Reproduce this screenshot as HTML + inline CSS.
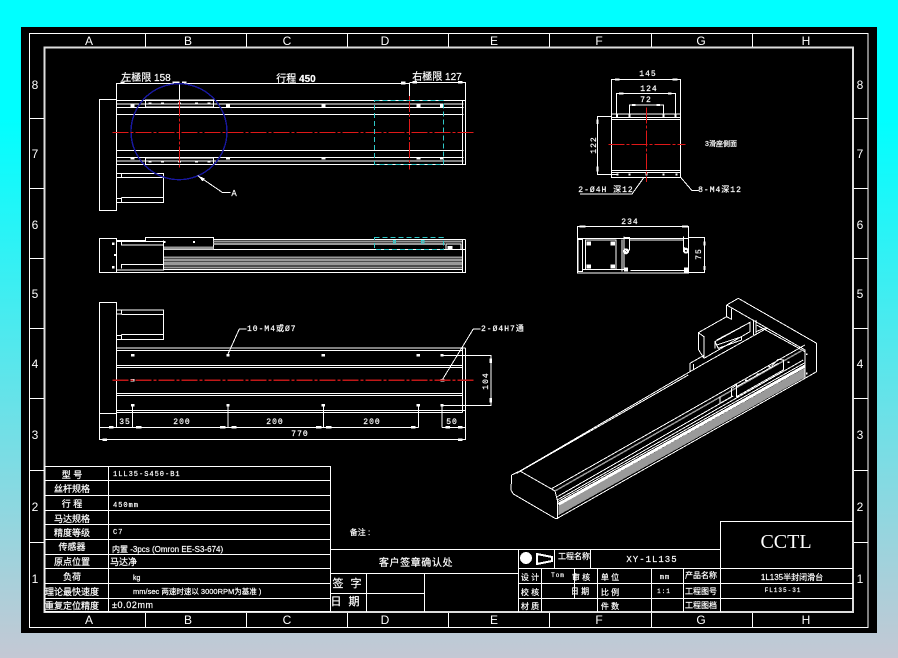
<!DOCTYPE html>
<html><head><meta charset="utf-8"><style>
html,body{margin:0;padding:0;width:898px;height:658px;overflow:hidden;background:linear-gradient(#00ffff 0%,#00ffff 18%,#c4c8d4 100%)}
svg{position:absolute;left:0;top:0;display:block}
text{font-family:"Liberation Sans","Noto Sans CJK SC",sans-serif;fill:#fff;stroke:#fff;stroke-width:.2;font-size:9px;text-anchor:middle}
.s{font-family:"Liberation Mono","Noto Sans CJK SC",monospace;font-size:8px;letter-spacing:1px}
.z{font-family:"Liberation Sans",sans-serif;font-size:12px;stroke-width:0}
.l{text-anchor:start}
line,rect,polyline,polygon,circle{fill:none;stroke:#fff;stroke-width:1;vector-effect:non-scaling-stroke;shape-rendering:crispEdges}
.r{stroke:#e01818;stroke-dasharray:16 2 3 2}
.c{stroke:#30c8c8;stroke-dasharray:5 3}
.g{stroke:#999}
.f{fill:#fff;stroke:none}
</style></head><body>
<svg width="898" height="658" viewBox="0 0 898 658" xmlns="http://www.w3.org/2000/svg">
<rect x="21" y="27" width="856" height="606" style="fill:#000;stroke:none"/>
<rect x="29.5" y="33.5" width="838.5" height="594"/>
<rect x="44.5" y="47.5" width="808.5" height="564.5" style="stroke:#ddd;stroke-width:2"/>
<!-- zone ticks -->
<g>
<line x1="145.5" y1="33" x2="145.5" y2="47"/><line x1="246.5" y1="33" x2="246.5" y2="47"/><line x1="347.5" y1="33" x2="347.5" y2="47"/><line x1="448.5" y1="33" x2="448.5" y2="47"/><line x1="549.5" y1="33" x2="549.5" y2="47"/><line x1="651.5" y1="33" x2="651.5" y2="47"/><line x1="752.5" y1="33" x2="752.5" y2="47"/>
<line x1="145.5" y1="613" x2="145.5" y2="627"/><line x1="246.5" y1="613" x2="246.5" y2="627"/><line x1="347.5" y1="613" x2="347.5" y2="627"/><line x1="448.5" y1="613" x2="448.5" y2="627"/><line x1="549.5" y1="613" x2="549.5" y2="627"/><line x1="651.5" y1="613" x2="651.5" y2="627"/><line x1="752.5" y1="613" x2="752.5" y2="627"/>
<line x1="30" y1="118.5" x2="44" y2="118.5"/><line x1="30" y1="188.5" x2="44" y2="188.5"/><line x1="30" y1="258.5" x2="44" y2="258.5"/><line x1="30" y1="328.5" x2="44" y2="328.5"/><line x1="30" y1="398.5" x2="44" y2="398.5"/><line x1="30" y1="470.5" x2="44" y2="470.5"/><line x1="30" y1="542.5" x2="44" y2="542.5"/>
<line x1="854" y1="118.5" x2="868" y2="118.5"/><line x1="854" y1="188.5" x2="868" y2="188.5"/><line x1="854" y1="258.5" x2="868" y2="258.5"/><line x1="854" y1="328.5" x2="868" y2="328.5"/><line x1="854" y1="398.5" x2="868" y2="398.5"/><line x1="854" y1="470.5" x2="868" y2="470.5"/><line x1="854" y1="542.5" x2="868" y2="542.5"/>
</g>
<g class="zz">
<text class="z" x="89" y="45">A</text><text class="z" x="188" y="45">B</text><text class="z" x="287" y="45">C</text><text class="z" x="385" y="45">D</text><text class="z" x="494" y="45">E</text><text class="z" x="599" y="45">F</text><text class="z" x="701" y="45">G</text><text class="z" x="806" y="45">H</text>
<text class="z" x="89" y="624">A</text><text class="z" x="188" y="624">B</text><text class="z" x="287" y="624">C</text><text class="z" x="385" y="624">D</text><text class="z" x="494" y="624">E</text><text class="z" x="599" y="624">F</text><text class="z" x="701" y="624">G</text><text class="z" x="806" y="624">H</text>
<text class="z" x="35" y="89">8</text><text class="z" x="35" y="158">7</text><text class="z" x="35" y="229">6</text><text class="z" x="35" y="298">5</text><text class="z" x="35" y="368">4</text><text class="z" x="35" y="439">3</text><text class="z" x="35" y="511">2</text><text class="z" x="35" y="583">1</text>
<text class="z" x="860" y="89">8</text><text class="z" x="860" y="158">7</text><text class="z" x="860" y="229">6</text><text class="z" x="860" y="298">5</text><text class="z" x="860" y="368">4</text><text class="z" x="860" y="439">3</text><text class="z" x="860" y="511">2</text><text class="z" x="860" y="583">1</text>
</g>

<!-- top view -->
<g transform="translate(90 60) scale(0.3333)">
<polyline points="80,118 80,70 958,70 958,120"/><polyline points="958,68 1126,68 1126,120"/>
<rect x="28" y="118" width="52" height="333"/>
<polyline points="80,122 1126,122 1126,313 80,313"/>
<line x1="80" y1="132" x2="1120" y2="132"/><line x1="80" y1="142" x2="1120" y2="142"/><line x1="80" y1="163" x2="1120" y2="163"/>
<line x1="80" y1="271" x2="1120" y2="271"/><line x1="80" y1="292" x2="1120" y2="292"/><line x1="80" y1="303" x2="1120" y2="303"/>
<line x1="1117" y1="122" x2="1117" y2="313"/>
<rect x="167" y="120" width="203" height="21"/><rect x="167" y="294" width="203" height="19"/>
<rect class="f" x="175" y="127" width="10" height="7"/><rect class="f" x="213" y="127" width="9" height="7"/><rect class="f" x="264" y="127" width="9" height="7"/><rect class="f" x="315" y="127" width="9" height="7"/><rect class="f" x="352" y="127" width="9" height="7"/>
<rect class="f" x="175" y="301" width="10" height="7"/><rect class="f" x="213" y="301" width="9" height="7"/><rect class="f" x="264" y="301" width="9" height="7"/><rect class="f" x="315" y="301" width="9" height="7"/><rect class="f" x="352" y="301" width="9" height="7"/>
<rect class="f" x="122" y="134" width="12" height="7"/><rect class="f" x="408" y="134" width="12" height="7"/><rect class="f" x="694" y="134" width="12" height="7"/><rect class="f" x="980" y="134" width="12" height="7"/><rect class="f" x="1050" y="134" width="10" height="7"/>
<rect class="f" x="122" y="292" width="12" height="7"/><rect class="f" x="408" y="292" width="12" height="7"/><rect class="f" x="694" y="292" width="12" height="7"/><rect class="f" x="980" y="292" width="12" height="7"/><rect class="f" x="1050" y="292" width="10" height="7"/>
<polyline points="80,340 220,340 220,428 80,428"/><line x1="80" y1="340" x2="80" y2="428"/>
<line x1="94" y1="353" x2="220" y2="353"/><line x1="94" y1="413" x2="220" y2="413"/><line x1="94" y1="340" x2="94" y2="353"/><line x1="94" y1="413" x2="94" y2="428"/>
<line x1="80" y1="352" x2="94" y2="352"/><line x1="80" y1="416" x2="94" y2="416"/>
<line x1="268" y1="70" x2="268" y2="122"/>
<rect class="f" x="92" y="65" width="12" height="7"/><rect class="f" x="248" y="65" width="20" height="7"/><rect class="f" x="276" y="65" width="14" height="7"/><rect class="f" x="933" y="65" width="14" height="9"/><rect class="f" x="967" y="63" width="14" height="8"/><rect class="f" x="1104" y="63" width="14" height="8"/>
<circle cx="267" cy="215" r="144" style="stroke:#1818a0;stroke-width:1.4"/>
<line x1="68" y1="217" x2="1150" y2="217" class="r"/>
<line x1="268" y1="122" x2="268" y2="328" class="r"/>
<line x1="958" y1="108" x2="958" y2="328" class="r"/>
<rect x="854" y="122" width="207" height="191" class="c"/>
<polyline points="325,348 398,398 422,398"/>
<polygon class="f" points="322,346 345,356 338,364"/>
</g>
<text x="146" y="81" style="font-size:10px">左極限 158</text>
<text x="296" y="82" style="font-size:10px">行程 <tspan style="font-weight:bold">450</tspan></text>
<text x="437" y="80" style="font-size:10px">右極限 127</text>
<text x="234" y="196" style="font-size:8px">A</text>

<!-- side view -->
<g transform="translate(90 60) scale(0.3333)">
<rect x="28" y="535" width="52" height="102"/>
<polyline points="80,541 166,541 166,532 371,532 371,568"/>
<line x1="371" y1="538" x2="1126" y2="538"/>
<polyline points="80,541 80,637 1126,637 1126,538"/>
<line x1="220" y1="541" x2="220" y2="630"/>
<polyline points="80,545 220,545 220,555 94,555 94,545"/>
<polyline points="80,630 220,630 220,613 94,613 94,625"/>
<line x1="220" y1="569" x2="1126" y2="569"/>
<line x1="371" y1="545" x2="1118" y2="545" class="g" style="stroke-width:2"/><line x1="371" y1="552" x2="1065" y2="552" class="g" style="stroke-width:2"/>
<line x1="222" y1="564" x2="371" y2="564" class="g" style="stroke-width:3"/>
<line x1="222" y1="592" x2="1118" y2="592" class="g" style="stroke-width:2"/><line x1="222" y1="600" x2="1118" y2="600" class="g" style="stroke-width:2"/><line x1="222" y1="607" x2="1118" y2="607" class="g" style="stroke-width:2"/><line x1="222" y1="614" x2="1118" y2="614" class="g" style="stroke-width:2"/><line x1="222" y1="622" x2="1118" y2="622" class="g" style="stroke-width:2"/><line x1="222" y1="629" x2="1118" y2="629"/>
<rect x="1068" y="552" width="45" height="17"/><rect class="f" x="1072" y="558" width="16" height="10"/>
<line x1="1118" y1="538" x2="1118" y2="637"/>
<rect class="f" x="220" y="543" width="7" height="6"/><rect class="f" x="309" y="543" width="6" height="6"/><rect class="f" x="66" y="548" width="8" height="7"/><rect class="f" x="72" y="582" width="6" height="6"/><rect class="f" x="66" y="618" width="8" height="8"/>
<rect x="854" y="532" width="207" height="37" class="c"/>
<rect x="910" y="542" width="7" height="7" style="stroke:#30c8c8"/><rect x="995" y="542" width="7" height="7" style="stroke:#30c8c8"/>
</g>

<!-- bottom view -->
<g transform="translate(90 290) scale(0.3333)">
<rect x="28" y="37" width="52" height="333"/>
<polyline points="80,60 220,60 220,148 80,148"/>
<line x1="80" y1="60" x2="80" y2="148"/>
<line x1="94" y1="73" x2="220" y2="73"/><line x1="94" y1="133" x2="220" y2="133"/><line x1="94" y1="60" x2="94" y2="73"/><line x1="94" y1="133" x2="94" y2="148"/>
<line x1="80" y1="72" x2="94" y2="72"/><line x1="80" y1="136" x2="94" y2="136"/>
<line x1="80" y1="174" x2="1127" y2="174"/><line x1="80" y1="181" x2="1117" y2="181"/>
<line x1="80" y1="226" x2="1117" y2="226"/><line x1="80" y1="232" x2="1117" y2="232"/>
<line x1="80" y1="310" x2="1117" y2="310"/><line x1="80" y1="317" x2="1117" y2="317"/>
<line x1="80" y1="361" x2="1127" y2="361"/><line x1="80" y1="368" x2="1117" y2="368"/>
<line x1="1117" y1="174" x2="1117" y2="368"/>
<polyline points="1127,174 1127,449 28,449 28,370"/>
<line x1="80" y1="370" x2="80" y2="412"/>
<line x1="28" y1="412" x2="985" y2="412"/><line x1="1056" y1="412" x2="1127" y2="412"/>
<line x1="128" y1="346" x2="128" y2="412"/><line x1="414" y1="346" x2="414" y2="412"/><line x1="700" y1="346" x2="700" y2="412"/><line x1="985" y1="346" x2="985" y2="412"/><line x1="1056" y1="346" x2="1056" y2="412"/>
<polyline points="1056,196 1203,196 1203,346 1056,346"/>
<rect class="f" x="57" y="408" width="14" height="8"/><rect class="f" x="138" y="408" width="16" height="8"/><rect class="f" x="390" y="408" width="16" height="8"/><rect class="f" x="424" y="408" width="16" height="8"/><rect class="f" x="678" y="408" width="16" height="8"/><rect class="f" x="708" y="408" width="16" height="8"/><rect class="f" x="963" y="408" width="14" height="8"/><rect class="f" x="1066" y="408" width="14" height="8"/><rect class="f" x="1104" y="408" width="14" height="8"/>
<rect class="f" x="37" y="445" width="14" height="8"/><rect class="f" x="1104" y="445" width="14" height="8"/>
<rect class="f" x="1198" y="205" width="8" height="14"/><rect class="f" x="1198" y="324" width="8" height="14"/>
<rect class="f" x="123" y="192" width="10" height="7"/><rect class="f" x="409" y="192" width="10" height="7"/><rect class="f" x="695" y="192" width="10" height="7"/><rect class="f" x="980" y="192" width="10" height="7"/><rect class="f" x="1051" y="192" width="10" height="7"/>
<rect class="f" x="123" y="342" width="10" height="7"/><rect class="f" x="409" y="342" width="10" height="7"/><rect class="f" x="695" y="342" width="10" height="7"/><rect class="f" x="980" y="342" width="10" height="7"/><rect class="f" x="1051" y="342" width="10" height="7"/>
<rect class="f" x="122" y="267" width="11" height="8"/><rect class="f" x="1052" y="267" width="11" height="8"/>
<line x1="68" y1="271" x2="1152" y2="271" class="r" style="stroke:#c01818;stroke-width:1.3"/>
<polyline points="414,192 448,117 470,117"/>
<polyline points="1058,268 1150,117 1172,117"/>
</g>
<text class="s l" x="247" y="331">10-M4或Ø7</text>
<text class="s l" x="481" y="331">2-Ø4H7通</text>
<text class="s" x="125" y="424">35</text><text class="s" x="182" y="424">200</text><text class="s" x="275" y="424">200</text><text class="s" x="372" y="424">200</text><text class="s" x="452" y="424">50</text><text class="s" x="300" y="436">770</text>
<text class="s" transform="translate(488 381) rotate(-90)">104</text>

<!-- right top view -->
<g transform="translate(560 60) scale(0.3333)">
<polyline points="154,175 154,58 361,58 361,175"/>
<polyline points="170,170 170,100 346,100 346,170"/>
<polyline points="208,170 208,135 310,135 310,170"/>
<rect x="154" y="162" width="207" height="190"/>
<line x1="154" y1="172" x2="361" y2="172"/><line x1="154" y1="178" x2="361" y2="178"/>
<line x1="154" y1="332" x2="361" y2="332"/><line x1="154" y1="338" x2="361" y2="338"/>
<polyline points="154,170 113,170 113,343 170,343"/>
<rect class="f" x="165" y="55" width="14" height="7"/><rect class="f" x="338" y="55" width="14" height="7"/><rect class="f" x="177" y="97" width="14" height="7"/><rect class="f" x="324" y="97" width="10" height="7"/><rect class="f" x="216" y="132" width="10" height="6"/><rect class="f" x="290" y="132" width="10" height="6"/><rect class="f" x="110" y="178" width="6" height="14"/><rect class="f" x="110" y="320" width="6" height="14"/>
<rect class="f" x="168" y="164" width="6" height="8"/><rect class="f" x="205" y="164" width="6" height="8"/><rect class="f" x="307" y="164" width="6" height="8"/><rect class="f" x="344" y="164" width="6" height="8"/>
<rect class="f" x="170" y="340" width="6" height="6"/><rect class="f" x="205" y="340" width="6" height="6"/><rect class="f" x="307" y="340" width="6" height="6"/><rect class="f" x="347" y="340" width="6" height="6"/><rect class="f" x="256" y="339" width="6" height="8"/>
<line x1="145" y1="253" x2="376" y2="253" class="r"/><line x1="260" y1="143" x2="260" y2="366" class="r"/>
<polyline points="252,352 216,402 60,402"/>
<polyline points="362,352 396,392 416,392"/>
</g>
<text class="s" x="648" y="76">145</text><text class="s" x="649" y="91">124</text><text class="s" x="646" y="102">72</text>
<text class="s" transform="translate(596 145) rotate(-90)">122</text>
<text x="721" y="146" style="font-size:7px">3滑座側面</text>
<text class="s" x="606" y="192">2-Ø4H 深12</text>
<text class="s" x="720" y="192">8-M4深12</text>

<!-- right end view -->
<g transform="translate(560 60) scale(0.3333)">
<polyline points="52,535 52,500 386,500 386,535"/>
<rect x="52" y="535" width="334" height="104"/>
<polyline points="386,532 434,532 434,638 386,638"/>
<rect x="54" y="538" width="14" height="96"/><rect x="76" y="540" width="92" height="88"/><line x1="68" y1="628" x2="190" y2="628"/>
<line x1="186" y1="538" x2="186" y2="634"/><line x1="192" y1="530" x2="192" y2="630"/>
<polyline points="192,532 208,532 208,570 195,575"/>
<polyline points="208,540 370,540 370,560 380,570"/>
<line x1="212" y1="632" x2="375" y2="632"/>
<line x1="370" y1="530" x2="370" y2="568"/>
<rect class="f" x="80" y="544" width="13" height="12"/><rect class="f" x="152" y="544" width="13" height="12"/><rect class="f" x="80" y="614" width="13" height="12"/><rect class="f" x="152" y="614" width="13" height="12"/>
<circle cx="198" cy="574" r="6" style="stroke-width:2"/><circle cx="378" cy="572" r="6" style="stroke-width:2"/>
<rect class="f" x="372" y="622" width="14" height="16"/><rect class="f" x="192" y="622" width="12" height="12"/>
<rect class="f" x="58" y="497" width="18" height="6"/><rect class="f" x="366" y="497" width="18" height="6"/><rect class="f" x="430" y="545" width="6" height="12"/><rect class="f" x="430" y="618" width="6" height="12"/>
</g>
<text class="s" x="630" y="224">234</text>
<text class="s" transform="translate(701 254) rotate(-90)">75</text>

<!-- iso view -->
<g transform="translate(500 290) scale(0.3333)">
<polygon points="175,648 915,234 915,262 175,676" style="fill:#9a9a9a;stroke:none"/>
<line x1="175" y1="643" x2="915" y2="228" style="stroke-width:3"/>
<polyline points="35,555 60,543 165,603 172,630 172,685 165,685 40,612 33,600 35,555"/>
<line x1="50" y1="550" x2="565" y2="255"/><line x1="60" y1="543" x2="570" y2="245"/>
<polyline points="570,245 570,220 612,196"/><polyline points="570,245 610,222 800,115"/>
<polyline points="580,240 580,222"/>
<polyline points="612,205 595,178 595,128 680,80"/>
<polyline points="595,128 612,140 612,205"/>
<polyline points="612,205 750,125 750,97 645,155 645,175"/>
<polyline points="650,150 745,100"/><polyline points="650,165 725,140 725,150 655,175 645,155"/>
<polyline points="680,45 715,25 950,160 950,245 915,265 915,180 680,45"/>
<polyline points="680,45 680,80 695,88 695,55"/><line x1="760" y1="90" x2="760" y2="135"/><line x1="768" y1="90" x2="768" y2="130"/>
<line x1="768" y1="125" x2="800" y2="112"/><line x1="770" y1="105" x2="915" y2="185"/>
<line x1="155" y1="596" x2="915" y2="165"/>
<line x1="165" y1="603" x2="905" y2="182" class="g" style="stroke-width:1.5"/>
<line x1="172" y1="620" x2="700" y2="318"/><line x1="172" y1="630" x2="910" y2="210"/><line x1="172" y1="636" x2="915" y2="218"/>
<line x1="172" y1="685" x2="915" y2="265"/>
<polyline points="660,320 660,340 695,320 695,295 710,285 710,320 850,240 850,210 835,208 815,228"/>
<line x1="710" y1="290" x2="835" y2="220"/>
<rect class="f" x="735" y="268" width="6" height="5"/><rect class="f" x="770" y="250" width="6" height="5"/><rect class="f" x="805" y="228" width="6" height="5"/><rect class="f" x="862" y="214" width="6" height="5"/><rect class="f" x="918" y="190" width="5" height="5"/><rect class="f" x="918" y="248" width="5" height="5"/>
</g>

<!-- parameter table -->
<g>
<rect x="45" y="466.5" width="285.5" height="145"/>
<line x1="45" y1="480.5" x2="330" y2="480.5"/><line x1="45" y1="495.5" x2="330" y2="495.5"/><line x1="45" y1="510.5" x2="330" y2="510.5"/><line x1="45" y1="524.5" x2="330" y2="524.5"/><line x1="45" y1="539.5" x2="330" y2="539.5"/><line x1="45" y1="554.5" x2="330" y2="554.5"/><line x1="45" y1="568.5" x2="330" y2="568.5"/><line x1="45" y1="583.5" x2="330" y2="583.5"/><line x1="45" y1="598.5" x2="330" y2="598.5"/>
<line x1="108.5" y1="466" x2="108.5" y2="612"/>
</g>
<text x="72" y="478">型 号</text><text x="72" y="492">丝杆规格</text><text x="72" y="507">行 程</text><text x="72" y="522">马达规格</text><text x="72" y="536">精度等级</text><text x="72" y="550">传感器</text><text x="72" y="565">原点位置</text><text x="72" y="580">负荷</text><text x="72" y="595">理论最快速度</text><text x="72" y="609">重复定位精度</text>
<text class="s l" x="113" y="476" style="font-size:7px">1LL35-S450-B1</text>
<text class="s l" x="113" y="507" style="font-size:7px">450mm</text>
<text class="s l" x="113" y="534" style="font-size:7px">C7</text>
<text class="l" x="112" y="552" style="font-size:8px">内置 -3pcs (Omron EE-S3-674)</text>
<text class="l" x="110" y="565">马达净</text>
<text class="l" x="133" y="580" style="font-size:7px">kg</text>
<text class="l" x="133" y="594" style="font-size:7.5px">mm/sec 两速时速以 3000RPM为基准 )</text>
<text class="l" x="112" y="608" style="letter-spacing:.6px">±0.02mm</text>

<!-- title block -->
<g>
<line x1="330" y1="549.5" x2="720" y2="549.5"/>
<line x1="330" y1="573.5" x2="518" y2="573.5"/><line x1="330" y1="593.5" x2="424" y2="593.5"/>
<line x1="330.5" y1="549" x2="330.5" y2="612"/>
<line x1="366.5" y1="574" x2="366.5" y2="612"/><line x1="424.5" y1="574" x2="424.5" y2="612"/>
<line x1="518.5" y1="549" x2="518.5" y2="612"/>
<line x1="518" y1="568.5" x2="853" y2="568.5"/><line x1="518" y1="583.5" x2="853" y2="583.5"/><line x1="518" y1="598.5" x2="853" y2="598.5"/>
<line x1="541.5" y1="568" x2="541.5" y2="612"/><line x1="574.5" y1="568" x2="574.5" y2="598"/><line x1="597.5" y1="568" x2="597.5" y2="612"/>
<line x1="554.5" y1="549" x2="554.5" y2="568"/><line x1="590.5" y1="549" x2="590.5" y2="568"/>
<line x1="651.5" y1="568" x2="651.5" y2="612"/><line x1="683.5" y1="568" x2="683.5" y2="612"/>
<line x1="720.5" y1="521" x2="720.5" y2="612"/><line x1="720" y1="521.5" x2="853" y2="521.5"/>
</g>
<circle class="f" cx="526" cy="558" r="6"/>
<polygon points="537,554 552,557 552,561 537,564" style="stroke-width:2"/>
<text x="360" y="535" style="font-size:8px">备注 :</text>
<text x="416" y="566" style="font-size:10px;letter-spacing:.6px">客户签章确认处</text>
<text x="348" y="587" style="font-size:11px;letter-spacing:2px">签 字</text>
<text x="346" y="605" style="font-size:11px;letter-spacing:2px">日 期</text>
<text x="574" y="559" style="font-size:8px">工程名称</text>
<text class="s" x="652" y="562" style="font-size:9px">XY-1L135</text>
<text x="786" y="548" style="font-family:'Liberation Serif',serif;font-size:20px;stroke-width:0">CCTL</text>
<text x="530" y="580" style="font-size:8px">设 计</text><text x="530" y="595" style="font-size:8px">校 核</text><text x="530" y="609" style="font-size:8px">材 质</text>
<text class="s" x="558" y="577" style="font-size:6px">Tom</text>
<text x="581" y="580" style="font-size:8px">审 核</text><text x="580" y="594" style="font-size:8px">日 期</text>
<text x="610" y="580" style="font-size:8px">单 位</text><text x="610" y="595" style="font-size:8px">比 例</text><text x="610" y="609" style="font-size:8px">件 数</text>
<text class="s" x="665" y="579" style="font-size:7px">mm</text><text class="s" x="664" y="593" style="font-size:6px">1:1</text>
<text x="701" y="578" style="font-size:8px">产品名称</text><text x="701" y="594" style="font-size:8px">工程图号</text><text x="701" y="608" style="font-size:8px">工程图档</text>
<text x="792" y="580" style="font-size:8px">1L135半封闭滑台</text>
<text class="s" x="783" y="592" style="font-size:6px">FL135-31</text>
</svg>
</body></html>
